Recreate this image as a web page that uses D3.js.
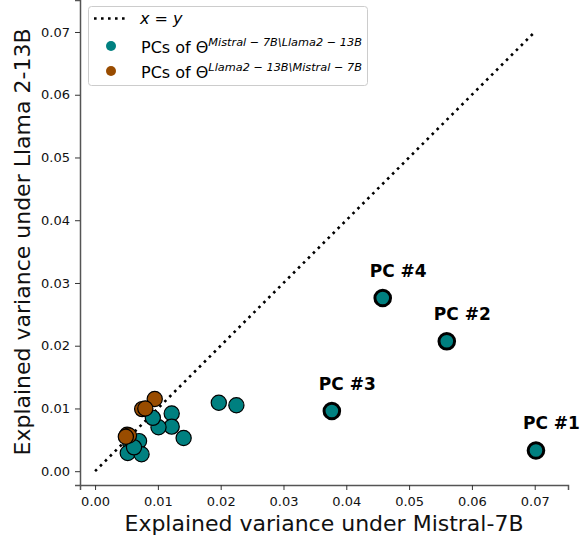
<!DOCTYPE html>
<html>
<head>
<meta charset="utf-8">
<script src="https://cdn.jsdelivr.net/npm/d3@7"></script>
<style>
  body { margin: 0; background: #fff; }
  svg { display: block; font-family: "DejaVu Sans", sans-serif; }
</style>
</head>
<body>
<svg id="chart" width="580" height="540"></svg>
<script>
// Data: PCs of Θ^{Mistral-7B \ Llama2-13B}
const mistralX = [0.0702, 0.0560, 0.0377, 0.0458, 0.0197, 0.0225, 0.0141, 0.0122, 0.0122, 0.0101, 0.0092, 0.0056, 0.0070, 0.0052, 0.0074, 0.0062];
const mistralY = [0.0033, 0.0207, 0.0096, 0.0276, 0.0109, 0.0105, 0.0053, 0.0092, 0.0071, 0.0070, 0.0085, 0.0045, 0.0048, 0.0029, 0.0027, 0.0038];
// PCs of Θ^{Llama2-13B \ Mistral-7B}
const llamaX = [0.0095, 0.0075, 0.0080, 0.0051, 0.0054, 0.0049];
const llamaY = [0.0115, 0.0099, 0.0100, 0.0058, 0.0057, 0.0055];
// Highlighted principal components (index into mistral arrays)
const pcLabels = ["PC #1", "PC #2", "PC #3", "PC #4"];
const pcIndex = [0, 1, 2, 3];
const xTicks = [0, 0.01, 0.02, 0.03, 0.04, 0.05, 0.06, 0.07];
const yTicks = [0, 0.01, 0.02, 0.03, 0.04, 0.05, 0.06, 0.07];
const diag = [0, 0.07];

const teal = "#008080", brown = "#994c00";
const svg = d3.select("#chart");
const x = d3.scaleLinear().domain([-0.0024, 0.0753]).range([80, 568]);
const y = d3.scaleLinear().domain([-0.0022, 0.0751]).range([485, 0]);

// diagonal x=y
svg.append("line")
  .attr("x1", x(diag[0])).attr("y1", y(diag[0]))
  .attr("x2", x(diag[1])).attr("y2", y(diag[1]))
  .attr("stroke", "#000").attr("stroke-width", 2.6)
  .attr("stroke-dasharray", "2.6,4.4");

// axes
const xAxis = svg.append("g").attr("transform", "translate(0,485)")
  .call(d3.axisBottom(x).tickValues(xTicks).tickFormat(d3.format(".2f")).tickSizeOuter(0).tickSize(5).tickPadding(3));
const yAxis = svg.append("g").attr("transform", "translate(80,0)")
  .call(d3.axisLeft(y).tickValues(yTicks).tickFormat(d3.format(".2f")).tickSizeOuter(0).tickSize(5).tickPadding(5));
[xAxis, yAxis].forEach(g => {
  g.select(".domain").attr("stroke", "#555").attr("stroke-width", 1.5);
  g.selectAll(".tick line").attr("stroke", "#333").attr("stroke-width", 1);
  g.selectAll(".tick text").attr("font-size", 13).attr("fill", "#111")
   .attr("font-family", "DejaVu Sans");
});
xAxis.selectAll(".tick text").attr("dy", "1em");

// axis labels
svg.append("text").attr("x", 324).attr("y", 531).attr("text-anchor", "middle")
  .attr("font-size", 22).attr("fill", "#111").text("Explained variance under Mistral-7B");
svg.append("text").attr("transform", "translate(30,242) rotate(-90)").attr("text-anchor", "middle")
  .attr("font-size", 22).attr("fill", "#111").text("Explained variance under Llama 2-13B");

// points
const mData = mistralX.map((d, i) => ({ x: d, y: mistralY[i], big: pcIndex.includes(i) }));
const lData = llamaX.map((d, i) => ({ x: d, y: llamaY[i] }));

svg.append("g").selectAll("circle").data(mData.filter(d => !d.big)).join("circle")
  .attr("cx", d => x(d.x)).attr("cy", d => y(d.y)).attr("r", 7.6)
  .attr("fill", teal).attr("stroke", "#000").attr("stroke-width", 1.2);
svg.append("g").selectAll("circle").data(mData.filter(d => d.big)).join("circle")
  .attr("cx", d => x(d.x)).attr("cy", d => y(d.y)).attr("r", 7.8)
  .attr("fill", teal).attr("stroke", "#000").attr("stroke-width", 3);
svg.append("g").selectAll("circle").data(lData).join("circle")
  .attr("cx", d => x(d.x)).attr("cy", d => y(d.y)).attr("r", 7.6)
  .attr("fill", brown).attr("stroke", "#000").attr("stroke-width", 1.2);

// PC labels
svg.append("g").selectAll("text").data(pcIndex).join("text")
  .attr("x", i => x(mistralX[i]) - 13).attr("y", i => y(mistralY[i]) - 21)
  .attr("font-size", 17).attr("font-weight", "bold").attr("fill", "#000")
  .text((i, k) => pcLabels[k]);

// legend
const lg = svg.append("g");
lg.append("rect").attr("x", 88.5).attr("y", 6.5).attr("width", 279).attr("height", 79).attr("rx", 3)
  .attr("fill", "#fff").attr("fill-opacity", 0.8).attr("stroke", "#ccc").attr("stroke-width", 1);
lg.append("line").attr("x1", 94).attr("x2", 128).attr("y1", 18.5).attr("y2", 18.5)
  .attr("stroke", "#000").attr("stroke-width", 2.6).attr("stroke-dasharray", "2.6,4.4");
lg.append("text").attr("x", 140).attr("y", 24).attr("font-size", 16).attr("font-style", "italic")
  .attr("fill", "#000").text("x = y");
lg.append("circle").attr("cx", 111).attr("cy", 46).attr("r", 5).attr("fill", teal);
lg.append("circle").attr("cx", 111).attr("cy", 71).attr("r", 5).attr("fill", brown);
function legText(yy, sup) {
  const t = lg.append("text").attr("x", 141).attr("y", yy).attr("font-size", 16).attr("fill", "#000");
  t.append("tspan").text("PCs of Θ");
  t.append("tspan").attr("font-size", 11.3).attr("font-style", "italic").attr("dy", -7.5).text(sup);
}
legText(53, "Mistral − 7B\\Llama2 − 13B");
legText(78, "Llama2 − 13B\\Mistral − 7B");
</script>
</body>
</html>
